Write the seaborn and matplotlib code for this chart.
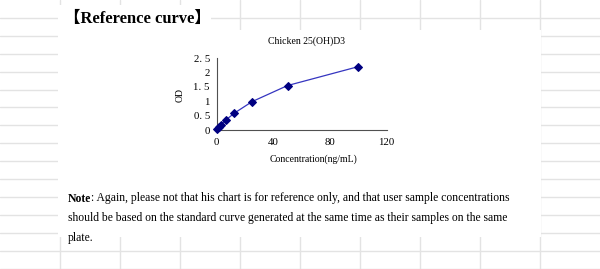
import matplotlib
matplotlib.use("Agg")
import matplotlib.pyplot as plt
import seaborn as sns
import pandas as pd
from matplotlib.patches import Rectangle

# ---- data ----
concentration = [0, 1.56, 3.12, 6.25, 12.5, 25, 50, 100]
od_values = [0.04, 0.12, 0.19, 0.34, 0.59, 0.99, 1.55, 2.21]
x_ticks = [0, 40, 80, 120]
y_ticks = [0, 0.5, 1, 1.5, 2, 2.5]
y_tick_labels = ["0", "0. 5", "1", "1. 5", "2", "2. 5"]
chart_title = "Chicken 25(OH)D3"
x_label = "Concentration(ng/mL)"
y_label = "OD"
page_title = "【Reference curve】"
note_bold = "Note"
note_line1 = ": Again, please not that his chart is for reference only, and that user sample concentrations"
note_line2 = "should be based on the standard curve generated at the same time as their samples on the same"
note_line3 = "plate."

sns.set_theme(style="white")
plt.rcParams['font.family'] = ['Liberation Serif', 'Noto Sans CJK SC', 'DejaVu Sans']

W, H = 600, 269
fig = plt.figure(figsize=(W / 100, H / 100), dpi=100)
fig.patch.set_facecolor("white")

# ---- background (spreadsheet grid + white page) ----
bg = fig.add_axes([0, 0, 1, 1])
bg.set_xlim(0, W)
bg.set_ylim(H, 0)
bg.axis("off")
grid_c = "#e3e3e3"
for k in range(1, 16):
    bg.axhline(17.9 * k, color=grid_c, lw=1.0, zorder=0)
for xv in range(60, 600, 60):
    bg.axvline(xv, color=grid_c, lw=1.0, zorder=0)
bg.add_patch(Rectangle((57.5, 29.5), 483.5, 207.5, facecolor="white", edgecolor="none", zorder=1))
bg.add_patch(Rectangle((57.5, 5), 153, 30, facecolor="white", edgecolor="none", zorder=1))

bg.text(63.5, 18.5, page_title, fontsize=11.9, fontweight="bold", ha="left", va="center",
        color="black", zorder=3)

# note text
fs_note = 8.4
t_bold = bg.text(68, 198.5, note_bold, fontsize=fs_note, fontweight="bold", ha="left",
                 va="center", color="black", zorder=3)
fig.canvas.draw()
r = fig.canvas.get_renderer()
bb = t_bold.get_window_extent(r)
x_after = 68 + bb.width
bg.text(x_after, 198.5, note_line1, fontsize=fs_note, ha="left", va="center", color="black", zorder=3)
bg.text(68, 218.5, note_line2, fontsize=fs_note, ha="left", va="center", color="black", zorder=3)
bg.text(68, 237.5, note_line3, fontsize=fs_note, ha="left", va="center", color="black", zorder=3)

# chart texts
bg.text(307, 41.5, chart_title, fontsize=7, ha="center", va="center", color="black", zorder=3)
bg.text(313, 159, x_label, fontsize=7, ha="center", va="center", color="black", zorder=3)
bg.text(180, 95, y_label, fontsize=7, rotation=90, ha="center", va="center", color="black", zorder=3)

# ---- chart axes ----
x0, x1 = 216.7, 386.7
y0, y1 = 130.0, 58.3
ax = fig.add_axes([x0 / W, (H - y0) / H, (x1 - x0) / W, (y0 - y1) / H])
ax.patch.set_alpha(0)

df = pd.DataFrame({"conc": concentration, "od": od_values})
sns.lineplot(data=df, x="conc", y="od", ax=ax, color="#3535c0", lw=0.9,
             marker="D", markersize=3.6, markerfacecolor="#000080",
             markeredgecolor="#000080", clip_on=False, zorder=5)

ax.set_xlim(0, 120)
ax.set_ylim(0, 2.5)
ax.set_xticks(x_ticks)
ax.set_xticklabels([str(v) for v in x_ticks])
ax.set_yticks(y_ticks)
ax.set_yticklabels(y_tick_labels)
ax.set_xlabel("")
ax.set_ylabel("")
for s in ["top", "right"]:
    ax.spines[s].set_visible(False)
for s in ["left", "bottom"]:
    ax.spines[s].set_color("#505050")
    ax.spines[s].set_linewidth(0.8)
ax.tick_params(axis="both", direction="out", length=3, width=0.8, color="#505050",
               labelsize=7.8, labelcolor="black", pad=2)
ax.tick_params(axis="x", pad=3)

fig.savefig("out.png", dpi=100, facecolor="white")
